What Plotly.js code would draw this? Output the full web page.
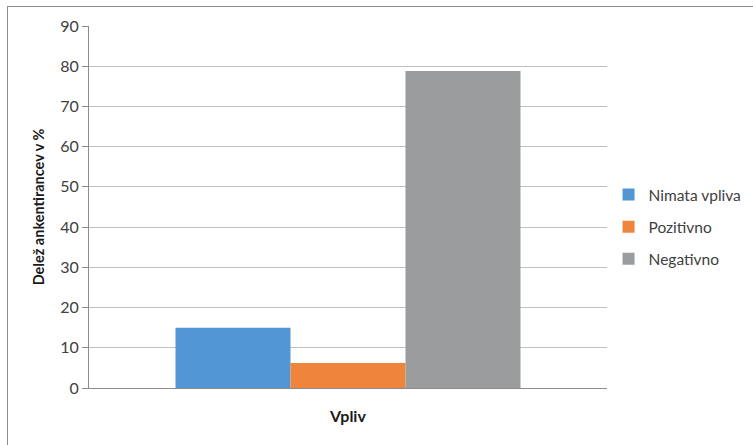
<!DOCTYPE html>
<html>
<head>
<meta charset="utf-8">
<script src="https://cdn.plot.ly/plotly-3.0.1.min.js"></script>
<style>
  html, body { margin: 0; padding: 0; background: #fff; }
  #wrap { position: relative; width: 753px; height: 445px; overflow: hidden; }
  #chart { position: absolute; left: 0; top: 0; width: 753px; height: 445px; }
  #frame { position: absolute; left: 7px; top: 6px; width: 760px; height: 460px;
           border-left: 1px solid #8c8c8c; border-top: 1px solid #8c8c8c; pointer-events: none; }
</style>
</head>
<body>
<div id="wrap">
  <div id="chart"></div>
  <div id="frame"></div>
</div>
<script>
// Survey answers: share of respondents (%) by type of influence
const categories = ["Vpliv"];
const seriesNames = ["Nimata vpliva", "Pozitivno", "Negativno"];
const nimataVpliva = [15.0];
const pozitivno = [6.2];
const negativno = [78.8];
const yTicks = [0, 10, 20, 30, 40, 50, 60, 70, 80, 90];

const seriesValues = [nimataVpliva, pozitivno, negativno];
const colors = ["#5296D3", "#EF843C", "#9A9C9E"];

const traces = seriesNames.map((name, i) => ({
  type: "bar",
  name: name,
  x: categories,
  y: seriesValues[i],
  legendgroup: "g" + i,
  marker: { color: colors[i], line: { width: 0 } },
  hoverinfo: "name+y"
}));

const font = "Lato, 'Open Sans', sans-serif";

const layout = {
  width: 753,
  height: 445,
  margin: { l: 89, r: 146, t: 26, b: 57, autoexpand: false },
  paper_bgcolor: "#ffffff",
  plot_bgcolor: "#ffffff",
  font: { family: font, size: 16, color: "#404040" },
  barmode: "group",
  bargap: 0.334,
  bargroupgap: 0,
  showlegend: true,
  legend: {
    x: 1.003, xanchor: "left",
    y: 0.445, yanchor: "middle",
    traceorder: "grouped",
    tracegroupgap: 9,
    font: { family: font, size: 15.5, color: "#404040" },
    bgcolor: "rgba(0,0,0,0)"
  },
  xaxis: {
    type: "category",
    showticklabels: false,
    ticks: "",
    showgrid: false,
    showline: true,
    linecolor: "#8c8c8c",
    linewidth: 1,
    zeroline: false,
    automargin: false,
    title: { text: "<b>Vpliv</b>", font: { family: font, size: 16, color: "#1a1a1a" }, standoff: 22 }
  },
  yaxis: {
    range: [0, 90],
    tickvals: yTicks,
    ticktext: yTicks.map(String),
    ticks: "outside",
    ticklen: 6,
    tickcolor: "#8c8c8c",
    tickfont: { family: font, size: 16, color: "#404040" },
    showgrid: true,
    gridcolor: "#bfbfbf",
    gridwidth: 1,
    showline: true,
    linecolor: "#8c8c8c",
    linewidth: 1,
    zeroline: false,
    automargin: false,
    title: { text: "<b>Delež ankentirancev v %</b>", font: { family: font, size: 14.5, color: "#1a1a1a" }, standoff: 12 }
  }
};

Plotly.newPlot("chart", traces, layout, { displayModeBar: false, staticPlot: true });
</script>
</body>
</html>
